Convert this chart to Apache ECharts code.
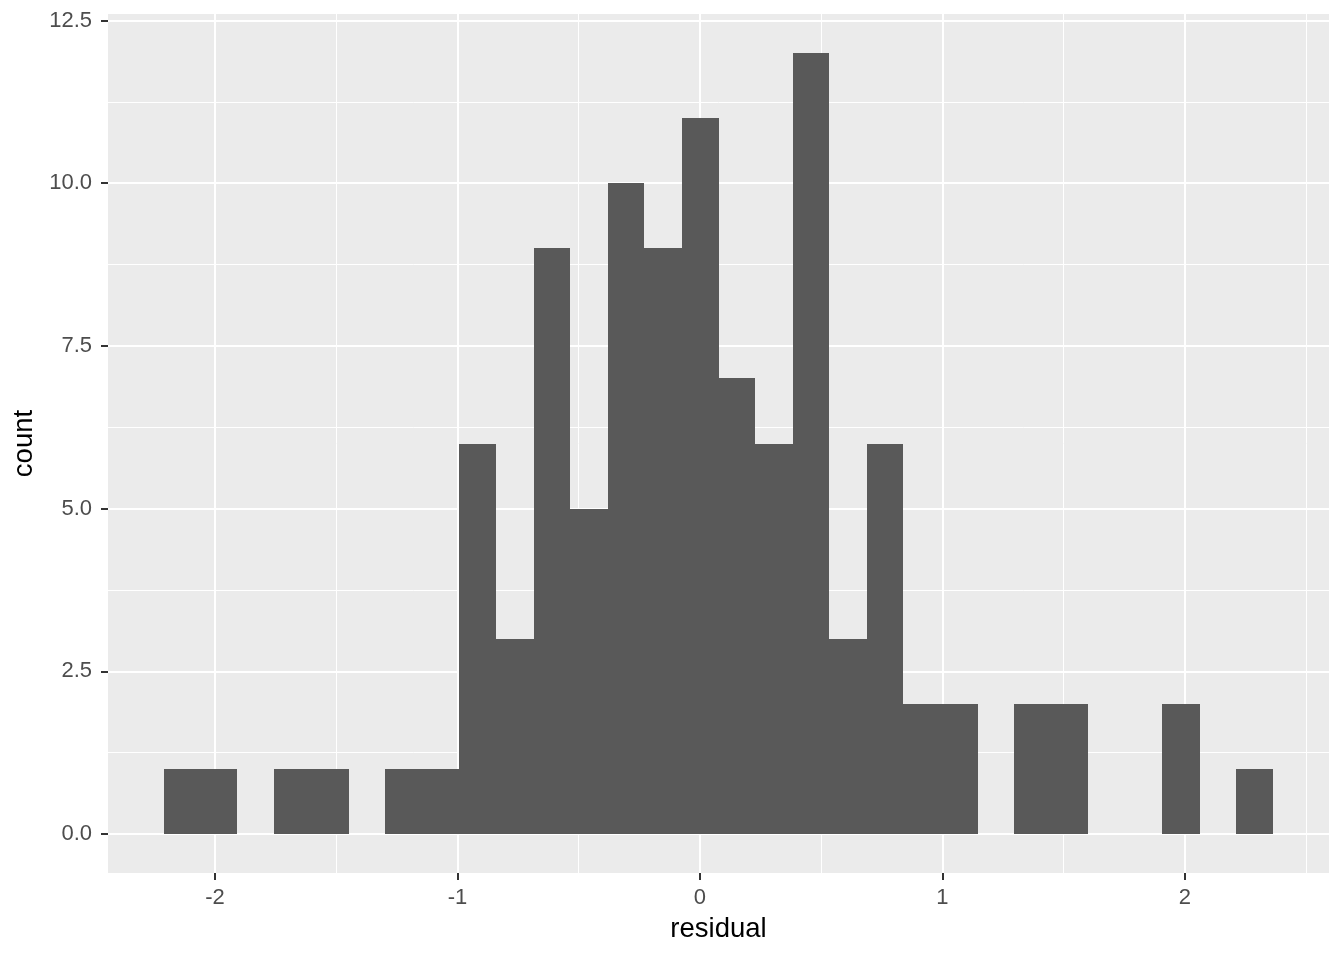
<!DOCTYPE html>
<html>
<head>
<meta charset="utf-8">
<title>residual histogram</title>
<script src="https://cdn.jsdelivr.net/npm/echarts@6/dist/echarts.min.js"></script>
<style>
  html, body { margin: 0; padding: 0; background: #fff; }
  #chart { width: 1344px; height: 960px; }
</style>
</head>
<body>
<div id="chart"></div>
<script>
// histogram bins (30 bins), edges
const binEdges = [
  -2.212, -2.060, -1.907, -1.755, -1.602, -1.449, -1.297, -1.144, -0.992, -0.839,
  -0.686, -0.534, -0.381, -0.229, -0.076, 0.077, 0.229, 0.382, 0.534, 0.687,
  0.839, 0.992, 1.145, 1.297, 1.450, 1.602, 1.755, 1.907, 2.060, 2.212, 2.365
];
const counts = [
  1, 1, 0, 1, 1, 0, 1, 1, 6, 3,
  9, 5, 10, 9, 11, 7, 6, 12, 3, 6,
  2, 2, 0, 2, 2, 0, 0, 2, 0, 1
];
const xTicks = [-2, -1, 0, 1, 2];
const xMinor = [-1.5, -0.5, 0.5, 1.5, 2.5];
const yTicks = [0, 2.5, 5, 7.5, 10, 12.5];
const yMinor = [1.25, 3.75, 6.25, 8.75, 11.25];

const font = 'Liberation Sans, Arial, sans-serif';
const barData = counts.map((c, i) => [binEdges[i], binEdges[i + 1], c]);

const gridLines = [];
xTicks.forEach(v => gridLines.push({ xAxis: v, lineStyle: { width: 2 } }));
xMinor.forEach(v => gridLines.push({ xAxis: v, lineStyle: { width: 1 } }));
yTicks.forEach(v => gridLines.push({ yAxis: v, lineStyle: { width: 2 } }));
yMinor.forEach(v => gridLines.push({ yAxis: v, lineStyle: { width: 1 } }));

const chart = echarts.init(document.getElementById('chart'), null, { renderer: 'canvas' });

chart.setOption({
  animation: false,
  grid: {
    left: 108, right: 15, top: 14, bottom: 87,
    show: true, backgroundColor: '#EBEBEB', borderWidth: 0
  },
  xAxis: {
    type: 'value',
    position: 'bottom',
    min: -2.441, max: 2.594,
    name: 'residual',
    nameLocation: 'middle',
    nameGap: 42,
    nameTextStyle: { fontFamily: font, fontSize: 27.5, color: '#000' },
    axisLine: { show: false, onZero: false },
    axisTick: { show: true, inside: false, customValues: xTicks, length: 7, lineStyle: { color: '#333333', width: 2 } },
    axisLabel: { customValues: xTicks, margin: 14, fontFamily: font, fontSize: 22, color: '#4D4D4D' },
    splitLine: { show: false }
  },
  yAxis: {
    type: 'value',
    position: 'left',
    min: -0.6, max: 12.6,
    name: 'count',
    nameLocation: 'middle',
    nameGap: 67,
    nameTextStyle: { fontFamily: font, fontSize: 27.5, color: '#000' },
    axisLine: { show: false, onZero: false },
    axisTick: { show: true, inside: false, customValues: yTicks, length: 7, lineStyle: { color: '#333333', width: 2 } },
    axisLabel: {
      customValues: yTicks, margin: 16, fontFamily: font, fontSize: 22, color: '#4D4D4D',
      formatter: v => v.toFixed(1)
    },
    splitLine: { show: false }
  },
  series: [
    {
      type: 'line',
      data: [],
      z: 1,
      silent: true,
      markLine: {
        z: 0,
        silent: true,
        symbol: ['none', 'none'],
        label: { show: false },
        lineStyle: { color: '#FFFFFF', type: 'solid' },
        emphasis: { disabled: true },
        data: gridLines
      }
    },
    {
      type: 'custom',
      z: 2,
      data: barData,
      encode: { x: [0, 1], y: 2 },
      renderItem: (params, api) => {
        const lo = api.coord([api.value(0), 0]);
        const hi = api.coord([api.value(1), api.value(2)]);
        const x0 = Math.round(lo[0]), x1 = Math.round(hi[0]);
        const y0 = Math.round(lo[1]), y1 = Math.round(hi[1]);
        return {
          type: 'rect',
          shape: { x: x0, y: y1, width: x1 - x0, height: y0 - y1 },
          style: { fill: '#595959' }
        };
      }
    }
  ]
});
</script>
</body>
</html>
